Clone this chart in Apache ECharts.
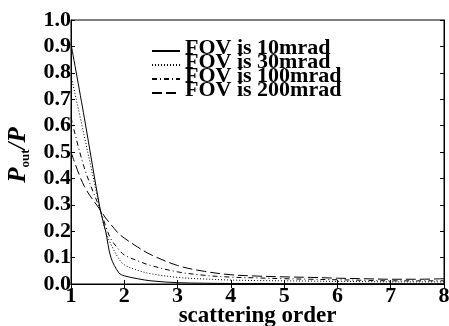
<!DOCTYPE html>
<html>
<head>
<meta charset="utf-8">
<script src="https://cdn.jsdelivr.net/npm/echarts@6/dist/echarts.min.js"></script>
<style>
  html, body { margin: 0; padding: 0; background: #fff; }
  #chart { width: 449px; height: 326px; }
</style>
</head>
<body>
<div id="chart"></div>
<script>
// scattering order sample points
const orders = [1, 1.25, 1.55, 1.65, 1.75, 1.9, 2, 2.25, 2.5, 3, 3.5, 4, 4.5, 5, 5.5, 6, 6.5, 7, 7.5, 8]
// Pout/P
const fov10 = [0.91, 0.63, 0.28, 0.2, 0.1, 0.042, 0.031, 0.02, 0.012, 0.005, 0.003, 0.002, 0.002, 0.001, 0.001, 0.001, 0.001, 0.001, 0.001, 0.001]
const fov30 = [0.79, 0.56, 0.28, 0.2, 0.15, 0.095, 0.073, 0.052, 0.039, 0.025, 0.019, 0.015, 0.013, 0.012, 0.011, 0.01, 0.009, 0.008, 0.008, 0.008]
const fov100 = [0.63, 0.44, 0.28, 0.22, 0.17, 0.13, 0.11, 0.088, 0.07, 0.046, 0.033, 0.026, 0.023, 0.02, 0.018, 0.016, 0.014, 0.012, 0.012, 0.012]
const fov200 = [0.5, 0.37, 0.28, 0.25, 0.225, 0.19, 0.174, 0.14, 0.111, 0.07, 0.048, 0.035, 0.03, 0.027, 0.025, 0.022, 0.02, 0.018, 0.018, 0.02]
const seriesNames = ['FOV is 10mrad', 'FOV is 30mrad', 'FOV is 100mrad', 'FOV is 200mrad']
const dashTypes = ['solid', [1, 2], [5, 3, 1, 3], [10, 4]]

const font = 'Liberation Serif'
const chart = echarts.init(document.getElementById('chart'))

const series = [fov10, fov30, fov100, fov200].map((vals, i) => {
  return {
    name: seriesNames[i],
    type: 'line',
    smooth: 0.35,
    symbol: 'none',
    xAxisIndex: 0,
    yAxisIndex: 0,
    lineStyle: { color: '#000', width: 1, type: dashTypes[i] },
    itemStyle: { color: '#000' },
    data: orders.map((x, k) => [x, vals[k]])
  }
})

const tickStyle = { show: true, inside: true, length: 4, lineStyle: { color: '#000' } }

chart.setOption({
  animation: false,
  grid: {
    left: 71,
    right: 5,
    top: 20,
    bottom: 42,
    outerBoundsMode: 'none',
    show: true,
    borderColor: '#000',
    borderWidth: 1
  },
  legend: {
    orient: 'vertical',
    left: 151,
    top: 37,
    padding: 0,
    itemWidth: 28,
    itemHeight: 14,
    itemGap: -14,
    data: seriesNames,
    itemStyle: { opacity: 0 },
    formatter: (name) => '{t|' + name + '}',
    textStyle: {
      color: '#000',
      rich: {
        // extra bottom padding lifts the text so the sample line sits near its baseline
        t: { fontFamily: font, fontSize: 22, fontWeight: 'bold', color: '#000', lineHeight: 22, padding: [0, 0, 6, 0] }
      }
    }
  },
  xAxis: [
    {
      type: 'value',
      min: 1,
      max: 8,
      interval: 1,
      name: 'scattering order',
      nameLocation: 'middle',
      nameGap: 21,
      nameMoveOverlap: false,
      nameTextStyle: { fontFamily: font, fontSize: 23, fontWeight: 'bold', color: '#000' },
      axisLine: { lineStyle: { color: '#000' } },
      axisTick: tickStyle,
      splitLine: { show: false },
      axisLabel: { fontFamily: font, fontSize: 22, fontWeight: 'bold', color: '#000', margin: 1 }
    },
    {
      type: 'value',
      position: 'top',
      min: 1,
      max: 8,
      interval: 1,
      axisLine: { lineStyle: { color: '#000' } },
      axisTick: tickStyle,
      splitLine: { show: false },
      axisLabel: { show: false }
    }
  ],
  yAxis: [
    {
      type: 'value',
      min: 0,
      max: 1,
      interval: 0.1,
      axisLine: { show: true, lineStyle: { color: '#000' } },
      axisTick: tickStyle,
      splitLine: { show: false },
      axisLabel: {
        fontFamily: font, fontSize: 22, fontWeight: 'bold', color: '#000', margin: 0,
        formatter: (v) => v.toFixed(1)
      }
    },
    {
      type: 'value',
      position: 'right',
      min: 0,
      max: 1,
      interval: 0.1,
      axisLine: { show: true, lineStyle: { color: '#000' } },
      axisTick: tickStyle,
      splitLine: { show: false },
      axisLabel: { show: false }
    }
  ],
  graphic: [
    {
      type: 'text',
      x: 19,
      y: 155,
      rotation: Math.PI / 2,
      style: {
        text: '{p|P}{s|out}{p|/P}',
        align: 'center',
        verticalAlign: 'middle',
        fill: '#000',
        rich: {
          p: { fontFamily: font, fontSize: 25, fontStyle: 'italic', fontWeight: 'bold', lineHeight: 26, verticalAlign: 'top' },
          s: { fontFamily: font, fontSize: 13, fontWeight: 'bold', lineHeight: 26, verticalAlign: 'bottom', padding: [10, 0, 0, 0] }
        }
      }
    }
  ],
  series: series
})
</script>
</body>
</html>
